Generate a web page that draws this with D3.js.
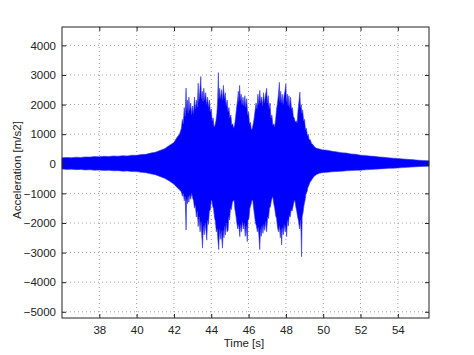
<!DOCTYPE html>
<html>
<head>
<meta charset="utf-8">
<script src="https://cdn.jsdelivr.net/npm/d3@7"></script>
<style>
  body { margin: 0; background: #fff; }
  text { font-family: "Liberation Sans", Arial, sans-serif; }
</style>
</head>
<body>
<div id="chart"></div>
<script>
// peak envelope of the acceleration signal: [time s, m/s2]
var upperPeaks = [
  [36.0, 200], [36.25, 215], [36.5, 205], [36.75, 222], [37.0, 215], [37.25, 232], [37.5, 225], [37.75, 242],
  [38.0, 235], [38.25, 252], [38.5, 245], [38.75, 262], [39.0, 255], [39.25, 272], [39.5, 265], [39.75, 288],
  [40.0, 285], [40.25, 310], [40.5, 320], [40.75, 360], [41.0, 390], [41.25, 450], [41.5, 510], [41.75, 620],
  [42.0, 720], [42.15, 880], [42.3, 1000],
  [42.40, 1200], [42.45, 1500], [42.50, 1350], [42.55, 1900], [42.60, 1600], [42.65, 2560], [42.68, 1800],
  [42.72, 2150], [42.76, 1700], [42.80, 2250], [42.85, 1800], [42.90, 2050], [42.95, 1650], [43.00, 1950],
  [43.05, 1700], [43.10, 2250], [43.15, 1850], [43.20, 2150], [43.25, 1900], [43.30, 2720], [43.33, 2100],
  [43.38, 2400], [43.44, 2950], [43.47, 2200], [43.52, 2450], [43.56, 2100], [43.60, 2550], [43.65, 2150],
  [43.70, 2400], [43.75, 2000], [43.80, 2250], [43.85, 1900], [43.90, 2150], [43.95, 1750], [44.00, 1850],
  [44.05, 1450], [44.10, 1550], [44.15, 1250], [44.20, 1300], [44.25, 1450], [44.30, 1700], [44.34, 2100],
  [44.38, 3080], [44.41, 2200], [44.45, 2550], [44.50, 2200], [44.55, 2500], [44.60, 2150], [44.65, 2650],
  [44.70, 2200], [44.75, 2400], [44.80, 1950], [44.85, 2150], [44.90, 1750], [44.95, 1900], [45.00, 1550],
  [45.05, 1650], [45.10, 1300], [45.15, 1350], [45.20, 1200], [45.25, 1300], [45.30, 1550], [45.35, 1850],
  [45.40, 2100], [45.45, 2450], [45.48, 2100], [45.52, 2650], [45.56, 2150], [45.60, 2350], [45.65, 2000],
  [45.70, 2250], [45.75, 1950], [45.80, 2300], [45.85, 1900], [45.90, 2200], [45.95, 1650], [46.00, 1750],
  [46.05, 1350], [46.10, 1400], [46.15, 1150], [46.20, 1200], [46.25, 1350], [46.30, 1550], [46.35, 1800],
  [46.40, 2050], [46.45, 1850], [46.50, 2350], [46.55, 2000], [46.60, 2480], [46.65, 2050], [46.70, 2250],
  [46.75, 1950], [46.80, 2400], [46.85, 2050], [46.90, 2300], [46.97, 2550], [47.00, 2050], [47.05, 2300],
  [47.10, 1850], [47.15, 2050], [47.20, 1550], [47.25, 1650], [47.30, 1300], [47.35, 1350], [47.40, 1250],
  [47.45, 1500], [47.50, 1850], [47.55, 2050], [47.60, 2350], [47.65, 2750], [47.68, 2100], [47.72, 2450],
  [47.76, 2050], [47.80, 2350], [47.85, 2000], [47.90, 2300], [47.95, 2450], [48.00, 2700], [48.03, 2100],
  [48.08, 2350], [48.12, 1950], [48.16, 2300], [48.20, 1900], [48.25, 2250], [48.30, 1850], [48.35, 1900],
  [48.40, 1600], [48.45, 1550], [48.50, 1400], [48.55, 1450], [48.60, 1380], [48.65, 1800], [48.70, 2100],
  [48.75, 2420], [48.78, 1900], [48.82, 2000], [48.86, 1700], [48.90, 1820], [48.95, 1450], [49.00, 1500],
  [49.05, 1150], [49.10, 1200], [49.15, 950], [49.20, 1000], [49.25, 800], [49.30, 820], [49.38, 680],
  [49.45, 650],
  [49.55, 560], [49.65, 520], [49.8, 500], [49.95, 470], [50.2, 460], [50.5, 420], [50.75, 400], [51.0, 370],
  [51.25, 360], [51.5, 330], [51.75, 320], [52.0, 290], [52.25, 280], [52.5, 260], [52.75, 250], [53.0, 230],
  [53.25, 220], [53.5, 200], [53.75, 190], [54.0, 180], [54.25, 165], [54.5, 150], [54.75, 140], [55.0, 125],
  [55.3, 110], [55.67, 100]
];

var lowerPeaks = [
  [36.0, -175], [36.25, -190], [36.5, -182], [36.75, -198], [37.0, -192], [37.25, -208], [37.5, -202],
  [37.75, -218], [38.0, -212], [38.25, -228], [38.5, -222], [38.75, -238], [39.0, -232], [39.25, -250],
  [39.5, -245], [39.75, -265], [40.0, -265], [40.25, -290], [40.5, -305], [40.75, -340], [41.0, -370],
  [41.25, -430], [41.5, -490], [41.75, -580], [42.0, -690], [42.15, -790], [42.3, -880],
  [42.40, -950], [42.45, -1100], [42.50, -1000], [42.55, -1250], [42.60, -1100], [42.65, -2240], [42.68, -1200],
  [42.72, -1350], [42.76, -1100], [42.80, -1300], [42.85, -1050], [42.90, -1200], [42.95, -1000], [43.00, -1150],
  [43.05, -1250], [43.10, -1500], [43.15, -1400], [43.20, -1800], [43.25, -1600], [43.30, -2120], [43.35, -1800],
  [43.40, -2300], [43.45, -1950], [43.49, -2400], [43.53, -2850], [43.57, -2100], [43.62, -2400], [43.67, -2000],
  [43.72, -2300], [43.76, -2580], [43.80, -1900], [43.85, -2050], [43.90, -1600], [43.95, -1550], [44.00, -1250],
  [44.03, -1220], [44.08, -1450], [44.12, -1500], [44.17, -1800], [44.22, -1950], [44.27, -2300], [44.32, -2200],
  [44.36, -2600], [44.40, -2900], [44.44, -2200], [44.48, -2550], [44.53, -2250], [44.57, -2600], [44.60, -2850],
  [44.64, -2250], [44.68, -2500], [44.72, -2100], [44.76, -2400], [44.80, -2000], [44.85, -2300], [44.90, -2250],
  [44.94, -1800], [44.98, -1900], [45.03, -1500], [45.08, -1550], [45.13, -1300], [45.18, -1250], [45.22, -1220],
  [45.27, -1550], [45.32, -1750], [45.37, -2000], [45.42, -2200], [45.47, -2050], [45.53, -2460], [45.57, -2050],
  [45.62, -2300], [45.67, -1950], [45.72, -2200], [45.77, -2000], [45.82, -2450], [45.87, -2100], [45.93, -2630],
  [45.97, -1900], [46.02, -1850], [46.07, -1500], [46.12, -1400], [46.17, -1250], [46.22, -1220], [46.27, -1500],
  [46.32, -1750], [46.37, -2000], [46.42, -2100], [46.47, -2300], [46.52, -2150], [46.56, -2500], [46.60, -2900],
  [46.64, -2200], [46.68, -2450], [46.72, -2100], [46.77, -2350], [46.82, -2050], [46.87, -2250], [46.92, -1950],
  [46.97, -2300], [47.02, -1800], [47.07, -1850], [47.12, -1500], [47.17, -1450], [47.22, -1250], [47.27, -1150],
  [47.30, -1110], [47.35, -1350], [47.40, -1500], [47.45, -1750], [47.50, -1850], [47.55, -2150], [47.60, -2300],
  [47.65, -2100], [47.70, -2500], [47.74, -2200], [47.77, -2740], [47.81, -2150], [47.86, -2400], [47.91, -2050],
  [47.96, -2300], [48.00, -2100], [48.04, -2460], [48.08, -1900], [48.13, -2100], [48.18, -1750], [48.23, -1800],
  [48.28, -1550], [48.33, -1600], [48.38, -1450], [48.43, -1300], [48.48, -1220], [48.53, -1450], [48.58, -1600],
  [48.63, -1800], [48.68, -1950], [48.73, -2200], [48.78, -1900], [48.81, -2300], [48.84, -3140], [48.87, -1800],
  [48.92, -1650], [48.97, -1400], [49.03, -1220], [49.08, -1000], [49.13, -950], [49.18, -800], [49.25, -700],
  [49.30, -620], [49.38, -545],
  [49.5, -430], [49.65, -360], [49.8, -320], [49.95, -300], [50.2, -290], [50.5, -270], [50.75, -260],
  [51.0, -250], [51.25, -240], [51.5, -230], [51.75, -220], [52.0, -215], [52.25, -205], [52.5, -195],
  [52.75, -185], [53.0, -175], [53.25, -165], [53.5, -155], [53.75, -150], [54.0, -140], [54.25, -130],
  [54.5, -120], [54.75, -110], [55.0, -100], [55.3, -90], [55.67, -80]
];

var xTicks = [38, 40, 42, 44, 46, 48, 50, 52, 54];
var yTicks = [-5000, -4000, -3000, -2000, -1000, 0, 1000, 2000, 3000, 4000];

const W = 474;
const H = 355;
const margin = { top: 27, right: 45, bottom: 37, left: 62 };
const width = W - margin.left - margin.right;
const height = H - margin.top - margin.bottom;

const svg = d3
  .select("#chart")
  .append("svg")
  .attr("width", W)
  .attr("height", H);

const g = svg
  .append("g")
  .attr("transform", "translate(" + margin.left + "," + margin.top + ")");

const x = d3.scaleLinear().domain([36, 55.67]).range([0, width]);
const y = d3.scaleLinear().domain([-5210, 4620]).range([height, 0]);

// dotted grid
g.selectAll(".gx")
  .data(xTicks)
  .enter()
  .append("line")
  .attr("x1", (d) => x(d))
  .attr("x2", (d) => x(d))
  .attr("y1", 0)
  .attr("y2", height)
  .attr("stroke", "#888")
  .attr("stroke-width", 0.8)
  .attr("stroke-dasharray", "1,3");

g.selectAll(".gy")
  .data(yTicks)
  .enter()
  .append("line")
  .attr("x1", 0)
  .attr("x2", width)
  .attr("y1", (d) => y(d))
  .attr("y2", (d) => y(d))
  .attr("stroke", "#888")
  .attr("stroke-width", 0.8)
  .attr("stroke-dasharray", "1,3");

// signal: upper edge forward, lower edge back, closed
var line = d3
  .line()
  .x((d) => x(d[0]))
  .y((d) => y(d[1]));

var outline = upperPeaks.concat(lowerPeaks.slice().reverse());

g.append("path")
  .attr("d", line(outline) + "Z")
  .attr("fill", "#0000ff")
  .attr("stroke", "#3434e0")
  .attr("stroke-width", 0.6)
  .attr("stroke-linejoin", "miter")
  .attr("stroke-miterlimit", 2);

// axes, ticks on all four sides pointing in
const axisColor = "#222";
function styleAxis(sel) {
  sel.select(".domain").remove();
  sel.selectAll(".tick line").attr("stroke", axisColor);
  sel
    .selectAll(".tick text")
    .attr("fill", "#222")
    .style("font-size", "11.5px");
}

g.append("g")
  .attr("transform", "translate(0," + height + ")")
  .call(d3.axisBottom(x).tickValues(xTicks).tickSizeInner(-4).tickSizeOuter(0).tickPadding(8).tickFormat(d3.format("d")))
  .call(styleAxis);

g.append("g")
  .call(d3.axisTop(x).tickValues(xTicks).tickSizeInner(-4).tickSizeOuter(0).tickFormat(""))
  .call(styleAxis);

g.append("g")
  .call(d3.axisLeft(y).tickValues(yTicks).tickSizeInner(-4).tickSizeOuter(0).tickPadding(6).tickFormat(d3.format("d")))
  .call(styleAxis);

g.append("g")
  .attr("transform", "translate(" + width + ",0)")
  .call(d3.axisRight(y).tickValues(yTicks).tickSizeInner(-4).tickSizeOuter(0).tickFormat(""))
  .call(styleAxis);

g.append("rect")
  .attr("width", width)
  .attr("height", height)
  .attr("fill", "none")
  .attr("stroke", axisColor)
  .attr("stroke-width", 1);

// labels
svg
  .append("text")
  .attr("x", 244)
  .attr("y", 347)
  .attr("text-anchor", "middle")
  .attr("fill", "#222")
  .style("font-size", "11.5px")
  .text("Time [s]");

svg
  .append("text")
  .attr("transform", "translate(21,170) rotate(-90)")
  .attr("text-anchor", "middle")
  .attr("fill", "#222")
  .style("font-size", "11.5px")
  .text("Acceleration [m/s2]");
</script>
</body>
</html>
